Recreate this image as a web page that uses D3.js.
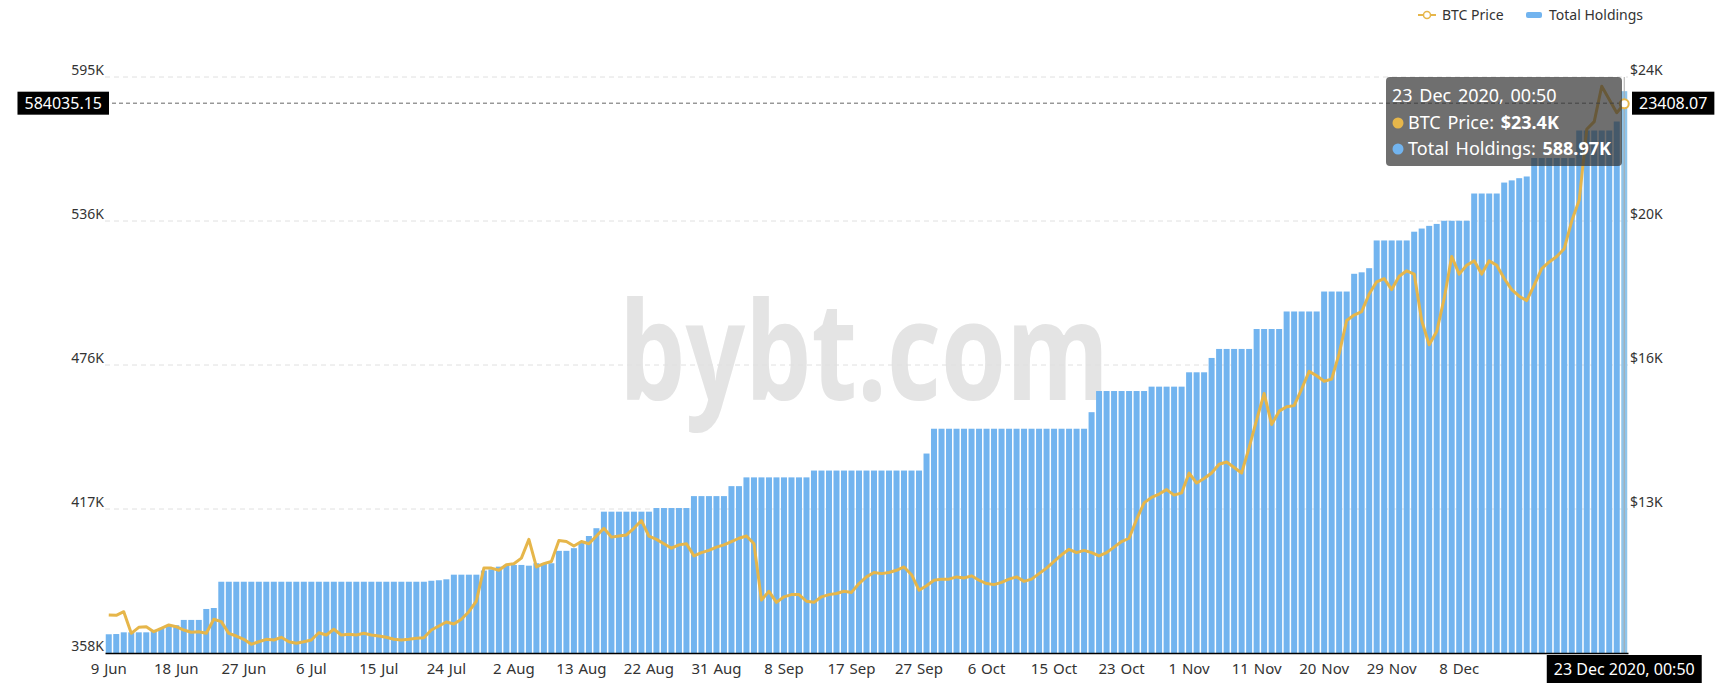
<!DOCTYPE html>
<html><head><meta charset="utf-8">
<script src="https://cdn.jsdelivr.net/npm/d3@7"></script>
<style>
body{margin:0;background:#fff;}
svg{display:block;font-family:"Noto Sans",sans-serif;}
</style>
</head><body>
<svg id="chart" width="1733" height="695"></svg>
<script>
const categories = [
"9 Jun","10 Jun","11 Jun","12 Jun","13 Jun","14 Jun","15 Jun","16 Jun","17 Jun","18 Jun",
"19 Jun","20 Jun","21 Jun","22 Jun","23 Jun","24 Jun","25 Jun","26 Jun","27 Jun","28 Jun",
"29 Jun","30 Jun","1 Jul","2 Jul","3 Jul","4 Jul","5 Jul","6 Jul","7 Jul","8 Jul",
"9 Jul","10 Jul","11 Jul","12 Jul","13 Jul","14 Jul","15 Jul","16 Jul","17 Jul","18 Jul",
"19 Jul","20 Jul","21 Jul","22 Jul","23 Jul","24 Jul","25 Jul","26 Jul","27 Jul","28 Jul",
"29 Jul","30 Jul","31 Jul","1 Aug","2 Aug","3 Aug","4 Aug","6 Aug","7 Aug","8 Aug",
"10 Aug","11 Aug","12 Aug","13 Aug","14 Aug","15 Aug","16 Aug","17 Aug","18 Aug","19 Aug",
"20 Aug","21 Aug","22 Aug","23 Aug","24 Aug","25 Aug","26 Aug","27 Aug","28 Aug","29 Aug",
"30 Aug","31 Aug","1 Sep","2 Sep","3 Sep","3 Sep","4 Sep","5 Sep","6 Sep","7 Sep",
"8 Sep","9 Sep","10 Sep","11 Sep","12 Sep","13 Sep","14 Sep","15 Sep","16 Sep","17 Sep",
"18 Sep","19 Sep","20 Sep","21 Sep","22 Sep","24 Sep","25 Sep","26 Sep","27 Sep","28 Sep",
"29 Sep","30 Sep","1 Oct","2 Oct","3 Oct","4 Oct","5 Oct","6 Oct","7 Oct","8 Oct",
"9 Oct","10 Oct","11 Oct","12 Oct","13 Oct","14 Oct","15 Oct","16 Oct","17 Oct","18 Oct",
"19 Oct","19 Oct","20 Oct","21 Oct","22 Oct","23 Oct","24 Oct","25 Oct","26 Oct","27 Oct",
"28 Oct","29 Oct","30 Oct","31 Oct","1 Nov","2 Nov","3 Nov","4 Nov","5 Nov","6 Nov",
"8 Nov","9 Nov","10 Nov","11 Nov","12 Nov","13 Nov","14 Nov","15 Nov","16 Nov","17 Nov",
"18 Nov","19 Nov","20 Nov","21 Nov","22 Nov","23 Nov","24 Nov","25 Nov","26 Nov","27 Nov",
"28 Nov","29 Nov","30 Nov","1 Dec","2 Dec","3 Dec","4 Dec","5 Dec","6 Dec","7 Dec",
"8 Dec","9 Dec","10 Dec","11 Dec","11 Dec","12 Dec","13 Dec","14 Dec","14 Dec","15 Dec",
"16 Dec","16 Dec","17 Dec","17 Dec","18 Dec","18 Dec","19 Dec","20 Dec","20 Dec","21 Dec",
"22 Dec","22 Dec","23 Dec"
];

const holdings = [
365700,365800,366500,366500,366500,366500,367500,368300,369100,369400,
371600,371600,371600,376100,376500,387300,387300,387300,387300,387300,
387300,387300,387300,387300,387300,387300,387300,387300,387300,387300,
387300,387300,387300,387300,387300,387300,387300,387300,387300,387300,
387300,387300,387300,387700,387900,388300,390200,390200,390200,390200,
391900,392400,393500,394200,394200,394200,393900,394900,394900,394900,
400000,400000,401100,403400,406100,409300,416100,416100,416100,416100,
416100,416100,416100,417600,417600,417600,417600,417600,422500,422500,
422500,422500,422500,426600,426600,430200,430200,430200,430200,430200,
430200,430200,430200,430200,433000,433000,433000,433000,433000,433000,
433000,433000,433000,433000,433000,433000,433000,433000,433000,440000,
450200,450200,450200,450200,450200,450200,450200,450200,450200,450200,
450200,450200,450200,450200,450200,450200,450200,450200,450200,450200,
450200,457000,465700,465700,465700,465700,465700,465700,465700,467500,
467500,467500,467500,467500,473400,473400,473400,479300,483000,483000,
483000,483000,483000,491200,491200,491200,491200,498400,498400,498400,
498400,498400,506600,506600,506600,506600,513900,514500,516200,527600,
527600,527600,527600,527600,531200,532500,533600,534400,535700,535700,
535700,535700,546900,546900,546900,546900,551400,552300,553200,553900,
561500,561500,561500,561500,561500,561500,572800,572800,572800,572800,
572800,576500,588970
];

const btcPrice = [
9777,9769,9865,9289,9449,9465,9332,9423,9511,9465,
9377,9316,9332,9289,9663,9599,9289,9217,9129,8996,
9065,9129,9111,9183,9065,9023,9065,9111,9305,9244,
9396,9244,9263,9244,9289,9244,9217,9183,9129,9111,
9129,9156,9172,9377,9484,9591,9537,9663,9865,10150,
11028,11028,10969,11117,11146,11293,11795,11058,11146,11205,
11765,11736,11618,11736,11677,11883,12089,11854,11883,11913,
12089,12296,11883,11795,11677,11559,11647,11677,11353,11441,
11500,11588,11647,11736,11824,11883,11677,10174,10409,10115,
10262,10321,10321,10144,10115,10262,10321,10350,10409,10380,
10616,10793,10910,10881,10910,10969,11058,10852,10439,10557,
10704,10734,10734,10793,10763,10822,10704,10616,10587,10646,
10734,10793,10675,10734,10881,11028,11205,11382,11530,11441,
11500,11441,11353,11441,11588,11736,11824,12325,12767,12915,
13003,13121,12974,13033,13563,13298,13416,13563,13799,13858,
13711,13563,14241,14978,15685,14860,15213,15331,15361,15803,
16274,16157,16009,16068,16746,17630,17777,17866,18337,18662,
18750,18455,18809,18956,18868,17630,16982,17335,18220,19339,
18868,19104,19221,18868,19221,19104,18750,18455,18278,18161,
18573,19015,19192,19339,19546,20283,20842,22729,22935,23878,
23524,23171,23408.07
];

const leftTickLabels = ["358K","417K","476K","536K","595K"];
const rightTickLabels = ["$13K","$16K","$20K","$24K"];
const leftDomain = [358000, 594800];
const rightDomain = [8764, 24124];
const pointerTime = "23 Dec 2020, 00:50";
const pointerLeftValue = "584035.15";
const pointerRightValue = "23408.07";
const tooltipPrice = "$23.4K";
const tooltipHoldings = "588.97K";
const seriesNames = ["BTC Price", "Total Holdings"];

const X0 = 105, X1 = 1628, Y0 = 77, Y1 = 653;
const BAR = "#72b4ef", LINE = "#e6b64a", TXT = "#333";
const N = categories.length;

const svg = d3.select("#chart");
const x = d3.scaleBand().domain(d3.range(N)).range([X0, X1]).paddingInner(0.2).paddingOuter(0.1);
const yL = d3.scaleLinear().domain(leftDomain).range([Y1, Y0]);
const yR = d3.scaleLinear().domain(rightDomain).range([Y1, Y0]);
const cx = i => x(i) + x.bandwidth() / 2;

const leftTicks = d3.range(5).map(k => leftDomain[0] + k * (leftDomain[1] - leftDomain[0]) / 4);
const rightTicks = d3.range(1, 5).map(k => rightDomain[0] + k * (rightDomain[1] - rightDomain[0]) / 4);

// watermark
svg.append("text").attr("x", 619).attr("y", 400)
  .attr("font-family", "'Open Sans', 'Noto Sans', sans-serif").attr("font-weight", 700)
  .attr("font-size", 136).attr("fill", "#e4e4e4")
  .attr("textLength", 490).attr("lengthAdjust", "spacingAndGlyphs").text("bybt.com");

// grid
svg.append("g").selectAll("line").data(leftTicks.slice(1)).join("line")
  .attr("x1", X0).attr("x2", X1).attr("y1", d => yL(d)).attr("y2", d => yL(d))
  .attr("stroke", "#e0e0e0").attr("stroke-dasharray", "5,4");

// bars
svg.append("g").selectAll("rect").data(holdings).join("rect")
  .attr("x", (d, i) => x(i)).attr("width", x.bandwidth())
  .attr("y", d => yL(d)).attr("height", d => Y1 - yL(d))
  .attr("fill", (d, i) => i === N - 1 ? "#8ec4ea" : BAR);

// pointer vertical line
svg.append("line").attr("x1", cx(N - 1)).attr("x2", cx(N - 1)).attr("y1", Y0).attr("y2", Y1)
  .attr("stroke", "#aaa").attr("stroke-width", 1);

// price line
const line = d3.line().x((d, i) => cx(i)).y(d => yR(d));
svg.append("path").datum(btcPrice).attr("d", line).attr("fill", "none")
  .attr("stroke", LINE).attr("stroke-width", 3).attr("stroke-linejoin", "round");

// axes
const gL = svg.append("g").attr("transform", `translate(${X0},0)`)
  .call(d3.axisLeft(yL).tickValues(leftTicks).tickSize(0).tickPadding(1).tickFormat((d, i) => leftTickLabels[i]));
gL.select(".domain").remove();
gL.selectAll("text").attr("dy", "-0.2em").attr("font-size", 14).attr("fill", TXT).attr("font-family", "'Noto Sans', sans-serif");

const gR = svg.append("g").attr("transform", `translate(${X1},0)`)
  .call(d3.axisRight(yR).tickValues(rightTicks).tickSize(0).tickPadding(2).tickFormat((d, i) => rightTickLabels[i]));
gR.select(".domain").remove();
gR.selectAll("text").attr("dy", "-0.2em").attr("font-size", 14).attr("fill", TXT).attr("font-family", "'Noto Sans', sans-serif");

const tickIdx = d3.range(0, 181, 9);
const gB = svg.append("g").attr("transform", `translate(0,${Y1})`)
  .call(d3.axisBottom(x).tickValues(tickIdx).tickSize(0).tickPadding(10).tickFormat(i => categories[i]));
gB.select(".domain").attr("stroke", "#000").attr("stroke-width", 1.5);
gB.selectAll("text").attr("font-size", 15).attr("word-spacing", 1).attr("fill", TXT).attr("font-family", "'Noto Sans', sans-serif");

// crosshair
const py = yL(+pointerLeftValue);
svg.append("line").attr("x1", X0).attr("x2", X1).attr("y1", py).attr("y2", py)
  .attr("stroke", "#666").attr("stroke-dasharray", "4,3");
function labelBox(txt, xa, yc, anchor, bh) {
  const g = svg.append("g");
  const t = g.append("text").attr("font-size", 16).attr("fill", "#fff").attr("dy", "0.35em").text(txt);
  const w = t.node().getComputedTextLength();
  const bw = w + 14;
  let bx = anchor === "end" ? xa - bw : anchor === "middle" ? xa - bw / 2 : xa;
  g.insert("rect", "text").attr("x", bx).attr("y", yc - bh / 2).attr("width", bw).attr("height", bh).attr("fill", "#000");
  t.attr("x", bx + 7).attr("y", yc);
}
labelBox(pointerLeftValue, 109, py, "end", 23);
labelBox(pointerRightValue, 1632, py, "start", 23);
labelBox(pointerTime, cx(N - 1), 669, "middle", 28);

// last point marker
svg.append("circle").attr("cx", cx(N - 1)).attr("cy", yR(btcPrice[N - 1])).attr("r", 4.5)
  .attr("fill", "#fff").attr("stroke", LINE).attr("stroke-width", 2);

// tooltip
const tt = svg.append("g");
tt.append("rect").attr("x", 1386).attr("y", 77).attr("width", 236).attr("height", 89).attr("rx", 4)
  .attr("fill", "rgba(50,50,50,0.7)");
tt.append("text").attr("x", 1392).attr("y", 102).attr("font-size", 18).attr("word-spacing", 2).attr("fill", "#fff").text(pointerTime);
const rows = [[seriesNames[0], tooltipPrice, LINE, 129], [seriesNames[1], tooltipHoldings, BAR, 155]];
rows.forEach(r => {
  tt.append("circle").attr("cx", 1398).attr("cy", r[3] - 6).attr("r", 5.5).attr("fill", r[2]);
  const t = tt.append("text").attr("x", 1408).attr("y", r[3]).attr("font-size", 18).attr("word-spacing", 2).attr("fill", "#fff");
  t.append("tspan").text(r[0] + ": ");
  t.append("tspan").attr("font-weight", 700).text(r[1]);
});

// legend
const lg = svg.append("g");
lg.append("line").attr("x1", 1418).attr("x2", 1436).attr("y1", 15).attr("y2", 15).attr("stroke", LINE).attr("stroke-width", 2);
lg.append("circle").attr("cx", 1427).attr("cy", 15).attr("r", 3.5).attr("fill", "#fff").attr("stroke", LINE).attr("stroke-width", 1.5);
lg.append("text").attr("x", 1442).attr("y", 15).attr("dy", "0.35em").attr("font-size", 14).attr("fill", TXT).text(seriesNames[0]);
lg.append("rect").attr("x", 1526).attr("y", 12).attr("width", 16).attr("height", 6).attr("rx", 2).attr("fill", BAR);
lg.append("text").attr("x", 1549).attr("y", 15).attr("dy", "0.35em").attr("font-size", 14).attr("fill", TXT).text(seriesNames[1]);
</script>
</body></html>
